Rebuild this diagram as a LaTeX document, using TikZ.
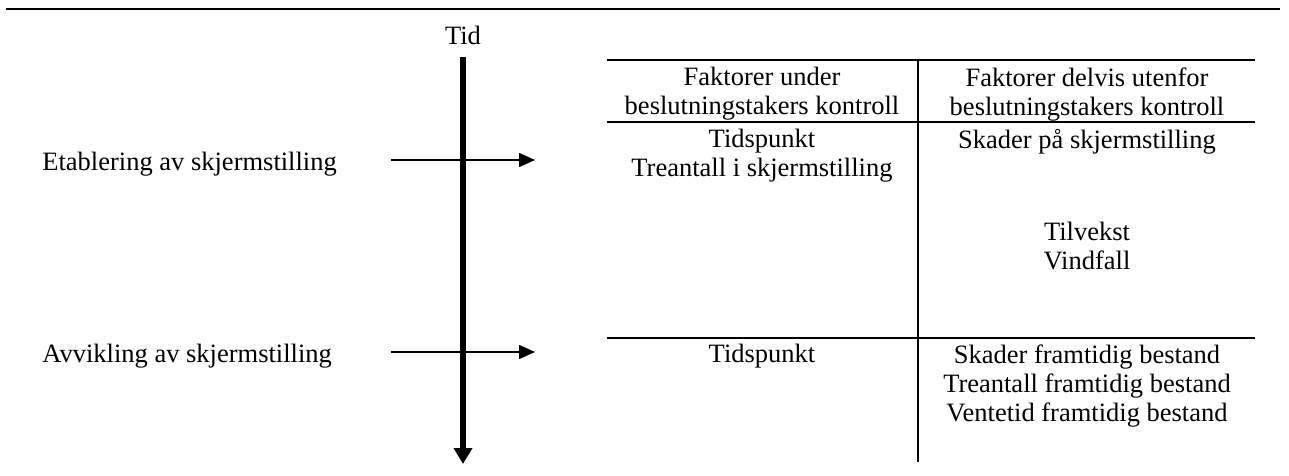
\documentclass[tikz,border=0pt]{standalone}
\usepackage{fontspec}
\setmainfont{Liberation Serif}
\usetikzlibrary{arrows.meta}
\begin{document}
\begin{tikzpicture}[x=0.5pt, y=-0.5pt]

\tikzstyle{every node} = [inner sep=0pt, align=center, font=\fontsize{13.25}{14.5}\selectfont]
\tikzstyle{rule} = [line width=1pt]
\tikzstyle{pil} = [line width=0.8pt, -{Triangle[length=8pt,width=7pt]}]

\useasboundingbox (0,0) rectangle (1289,476);

\coordinate (la) at (6,9);
\coordinate (lb) at (1280,9);
\draw[line width=1.2pt] (la) -- (lb);

\node[anchor=base] (tid) at (463,45) {Tid};
\coordinate (start) at (463,57);
\coordinate (slutt) at (463,464);
\draw[line width=2.6pt, -{Triangle[length=8pt,width=9pt]}] (start) -- (slutt);

\node[anchor=base west] (etab) at (42,170) {Etablering av skjermstilling};
\node[anchor=base west] (avv) at (42,362) {Avvikling av skjermstilling};

\coordinate (e1) at (391,160);
\coordinate (e2) at (535,160);
\coordinate (a1) at (391,352);
\coordinate (a2) at (535,352);
\draw[pil] (e1) -- (e2);
\draw[pil] (a1) -- (a2);

\coordinate (t1) at (607,60);
\coordinate (t2) at (1255,60);
\coordinate (h1) at (607,122);
\coordinate (h2) at (1255,122);
\coordinate (m1) at (607,338);
\coordinate (m2) at (1255,338);
\coordinate (v1) at (918,60);
\coordinate (v2) at (918,462);

\draw[rule] (t1) -- (t2);
\draw[rule] (h1) -- (h2);
\draw[rule] (m1) -- (m2);
\draw[rule] (v1) -- (v2);

\node[anchor=north] (kol1) at (762,67) {Faktorer under\\beslutningstakers kontroll};
\node[anchor=north] (kol2) at (1087,67) {Faktorer delvis utenfor\\beslutningstakers kontroll};

\node[anchor=north] (etab1) at (762,129) {Tidspunkt\\Treantall i skjermstilling};
\node[anchor=north] (etab2) at (1087,129) {Skader på skjermstilling};
\node[anchor=north] (vekst) at (1087,222) {Tilvekst\\Vindfall};

\node[anchor=north] (avv1) at (762,344) {Tidspunkt};
\node[anchor=north] (avv2) at (1087,344) {Skader framtidig bestand\\Treantall framtidig bestand\\Ventetid framtidig bestand};

\end{tikzpicture}
\end{document}
